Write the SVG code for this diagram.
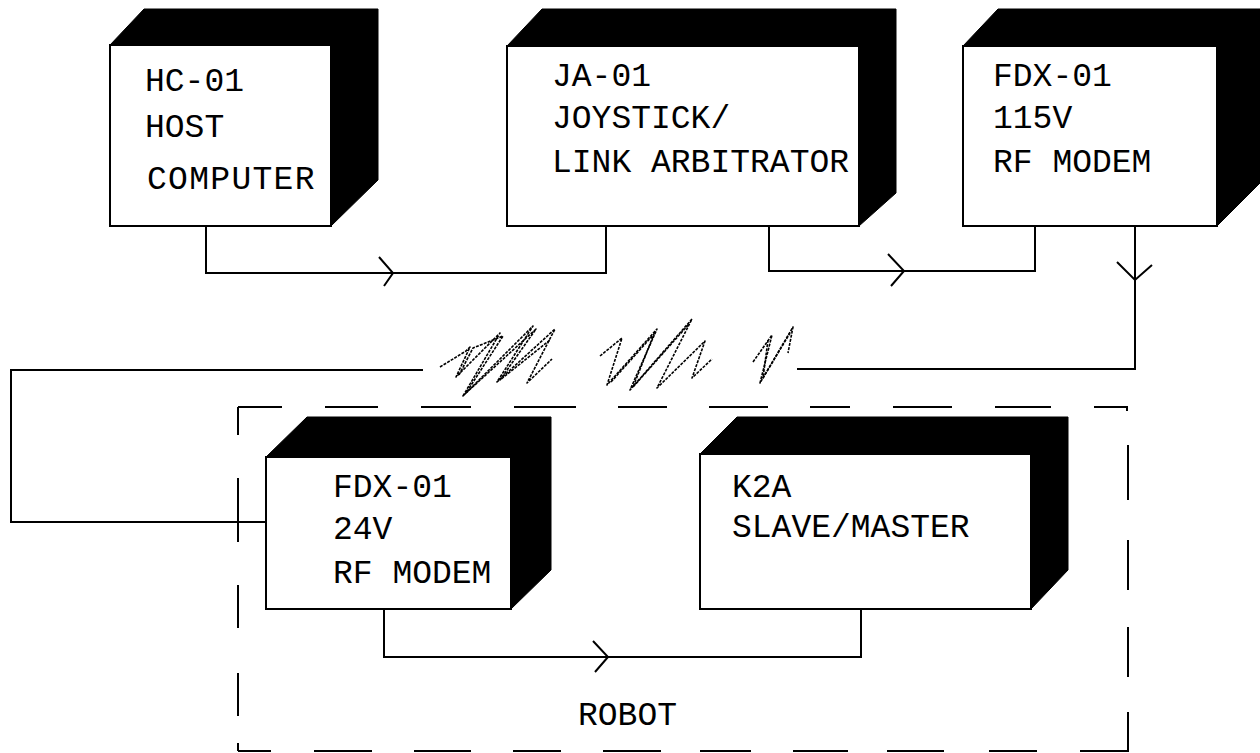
<svg xmlns="http://www.w3.org/2000/svg" width="1260" height="753" viewBox="0 0 1260 753">
<style>
.shadow{fill:#000;stroke:#000;stroke-width:1}
.front{fill:#fff;stroke:#000;stroke-width:2}
.lbl{font-family:"Liberation Mono","DejaVu Sans Mono",monospace;font-size:33px;fill:#000}
.wire{fill:none;stroke:#000;stroke-width:2}
.arr{fill:none;stroke:#000;stroke-width:2}
.zig{fill:none;stroke:#000;stroke-width:1.6;stroke-linejoin:round;stroke-dasharray:3 1.2}
.dash{fill:none;stroke:#000;stroke-width:2}
</style>
<rect width="1260" height="753" fill="#fff"/>

<g id="robot-boundary">
<path class="dash" d="M238,407 H282 M325,407 H378 M421,407 H471 M514,407 H576 M618,407 H667 M709,407 H768 M810,407 H850 M893,407 H952 M995,407 H1051 M1094,407 H1127 V411"/>
<path class="dash" d="M238,751 H271 M314,751 H372 M414,751 H471 M513,751 H561 M603,751 H661 M700,751 H751 M793,751 H848 M887,751 H944 M989,751 H1037 M1080,751 H1128 V712"/>
<path class="dash" d="M238,407 V435 M238,478 V542 M238,585 V628 M238,673 V716 M238,743 V751"/>
<path class="dash" d="M1128,445 V500 M1128,540 V590 M1128,627 V677"/>
<text class="lbl" x="578" y="725">ROBOT</text>
</g>

<g id="connectors">
<path class="wire" d="M206,226 V273 H606 V226"/>
<path class="arr" d="M379,257 L393,273 L384,286"/>
<path class="wire" d="M769,226 V271 H1035 V226"/>
<path class="arr" d="M888,254 L904,271 L891,286"/>
<path class="wire" d="M1135,226 V369 H797"/>
<path class="arr" d="M1117,262 L1135,280 L1152,265"/>
<path class="wire" d="M423,370 H11 V522 H266"/>
<path class="wire" d="M384,609 V657 H861 V609"/>
<path class="arr" d="M593,641 L608,657 L595,672"/>
<g id="rf-link">
<polyline class="zig" points="440,367 466,351 470,347 456,377 500,333 463,396 533,326 497,382 555,329 527,383 552,359"/>
<polyline class="zig" points="459,375 473,348 503,336 466,393 536,329 500,380 550,340"/>
<polyline class="zig" points="600,356 622,338 607,385 657,329 630,390 692,319 657,388 705,341 692,378 712,359"/>
<polyline class="zig" points="611,382 654,334 633,387 689,324"/>
<polyline class="zig" points="753,362 772,335 760,383 793,327 788,353"/>
<polyline class="zig" points="768,340 763,378 790,333"/>
</g>
</g>

<g id="hc01">
<polygon class="shadow" points="110,45 144,9 378,9 378,180 331,226 331,45"/>
<rect class="front" x="110" y="45" width="221" height="181"/>
<text class="lbl" x="145" y="91">HC-01</text>
<text class="lbl" x="145" y="137">HOST</text>
<text class="lbl" x="147" y="189" letter-spacing="1.3">COMPUTER</text>
</g>

<g id="ja01">
<polygon class="shadow" points="507,46 542,9 896,9 896,193 859,226 859,46"/>
<rect class="front" x="507" y="46" width="352" height="180"/>
<text class="lbl" x="552" y="86">JA-01</text>
<text class="lbl" x="552" y="128">JOYSTICK/</text>
<text class="lbl" x="552" y="172">LINK ARBITRATOR</text>
</g>

<g id="fdx01-115">
<polygon class="shadow" points="963,46 998,9 1262,9 1262,181 1217,226 1217,46"/>
<rect class="front" x="963" y="46" width="254" height="180"/>
<text class="lbl" x="993" y="86">FDX-01</text>
<text class="lbl" x="993" y="128">115V</text>
<text class="lbl" x="993" y="172">RF MODEM</text>
</g>

<g id="fdx01-24">
<polygon class="shadow" points="266,457 307,417 551,417 551,570 511,609 511,457"/>
<rect class="front" x="266" y="457" width="245" height="152"/>
<text class="lbl" x="333" y="497">FDX-01</text>
<text class="lbl" x="333" y="539">24V</text>
<text class="lbl" x="333" y="583">RF MODEM</text>
</g>

<g id="k2a">
<polygon class="shadow" points="700,454 737,417 1068,417 1068,570 1031,609 1031,454"/>
<rect class="front" x="700" y="454" width="331" height="155"/>
<text class="lbl" x="732" y="497">K2A</text>
<text class="lbl" x="732" y="537">SLAVE/MASTER</text>
</g>
</svg>
